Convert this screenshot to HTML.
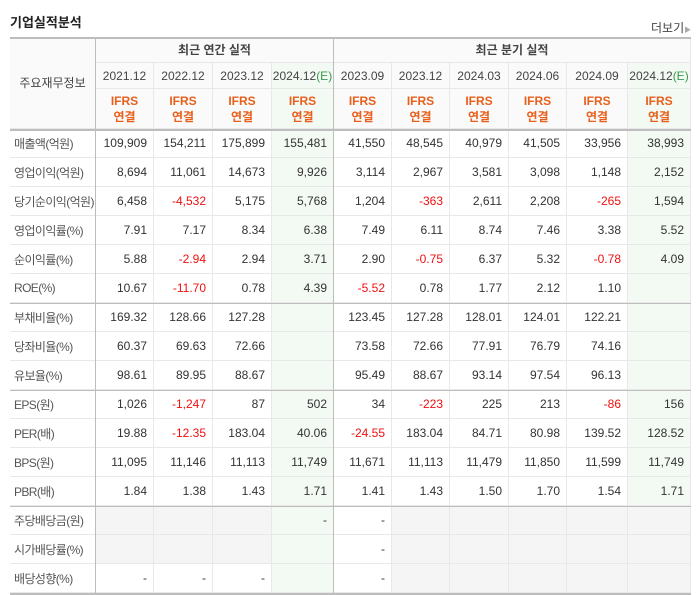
<!DOCTYPE html>
<html><head><meta charset="utf-8">
<style>
body{margin:0;width:697px;height:595px;background:#fff;font-family:"Liberation Sans","Noto Sans CJK KR",sans-serif;position:relative;overflow:hidden}
.c{position:absolute;box-sizing:border-box;font-size:12px;color:#333;display:flex;align-items:center;border-right:1px solid #e8e8e8;border-bottom:1px solid #e8e8e8;white-space:nowrap}
.n{justify-content:flex-end;padding-right:6px}
.h{justify-content:center;text-align:center;background:#fafafa;color:#444}
.lab{padding-left:4px;color:#555;background:#fff;letter-spacing:-0.6px}
.neg{color:#f01010}
.ifrs{color:#e8601c;font-weight:bold;line-height:16px}
.hl{background:#f3f9f3}
.gr{background:#f5f5f5}
.hr{position:absolute;height:1px;background:#bdbdbd}
.vr{position:absolute;width:1px;background:#bdbdbd}
</style></head><body>
<div style="position:absolute;left:10px;top:12px;font-size:13px;font-weight:bold;color:#222">기업실적분석</div>
<div style="position:absolute;left:651px;top:19px;font-size:12px;color:#444">더보기<span style="font-size:7px;color:#aaa">▶</span></div>
<div id="tbl"></div>
<script>
const colW=[86,58,59,59,62,58,58,59,58,61,63];
const periods=["2021.12","2022.12","2023.12","2024.12(E)","2023.09","2023.12","2024.03","2024.06","2024.09","2024.12(E)"];
const rowLabels=["매출액(억원)","영업이익(억원)","당기순이익(억원)","영업이익률(%)","순이익률(%)","ROE(%)","부채비율(%)","당좌비율(%)","유보율(%)","EPS(원)","PER(배)","BPS(원)","PBR(배)","주당배당금(원)","시가배당률(%)","배당성향(%)"];
const values=[
["109,909","154,211","175,899","155,481","41,550","48,545","40,979","41,505","33,956","38,993"],
["8,694","11,061","14,673","9,926","3,114","2,967","3,581","3,098","1,148","2,152"],
["6,458","-4,532","5,175","5,768","1,204","-363","2,611","2,208","-265","1,594"],
["7.91","7.17","8.34","6.38","7.49","6.11","8.74","7.46","3.38","5.52"],
["5.88","-2.94","2.94","3.71","2.90","-0.75","6.37","5.32","-0.78","4.09"],
["10.67","-11.70","0.78","4.39","-5.52","0.78","1.77","2.12","1.10",""],
["169.32","128.66","127.28","","123.45","127.28","128.01","124.01","122.21",""],
["60.37","69.63","72.66","","73.58","72.66","77.91","76.79","74.16",""],
["98.61","89.95","88.67","","95.49","88.67","93.14","97.54","96.13",""],
["1,026","-1,247","87","502","34","-223","225","213","-86","156"],
["19.88","-12.35","183.04","40.06","-24.55","183.04","84.71","80.98","139.52","128.52"],
["11,095","11,146","11,113","11,749","11,671","11,113","11,479","11,850","11,599","11,749"],
["1.84","1.38","1.43","1.71","1.41","1.43","1.50","1.70","1.54","1.71"],
["","","","-","-","","","","",""],
["","","","","-","","","","",""],
["-","-","-","","-","","","","",""]];
const T=document.body;
const X=[10];colW.forEach(w=>X.push(X[X.length-1]+w));
function cell(x,y,w,h,cls,html,name){
 const d=document.createElement('div');
 d.className='c '+cls;
 d.style.cssText=`left:${x}px;top:${y}px;width:${w}px;height:${h}px`;
 d.innerHTML=html;
 
 
 T.appendChild(d);
}
cell(X[0],37,colW[0],92,'h','주요재무정보','header-label');
cell(X[1],37,X[5]-X[1],26,'h','<b>최근 연간 실적</b>','annual-header');
cell(X[5],37,X[11]-X[5],26,'h','<b>최근 분기 실적</b>','quarterly-header');
periods.forEach((p,i)=>{
 const hl=(i==3||i==9)?' hl':'';
 const t=p.replace('(E)','<span style="color:#3a9a4a">(E)</span>');
 cell(X[i+1],63,colW[i+1],26,'h'+hl,t,'period-'+p);
 cell(X[i+1],89,colW[i+1],40,'h'+hl,'<span class="ifrs">IFRS<br>연결</span>','ifrs-'+p);
});
rowLabels.forEach((r,ri)=>{
 const y=129+ri*29;
 cell(X[0],y,colW[0],29,'lab',r,'row-label');
 values[ri].forEach((v,ci)=>{
  let cls='n';
  if(ci==3||ci==9)cls+=' hl';
  if(ri>=13){
   if(ri<15&&ci<3)cls+=' gr';
   if(ci>=5)cls+=' gr';
  }
  if(v.startsWith('-')&&v.length>1)cls+=' neg';
  cell(X[ci+1],y,colW[ci+1],29,cls,v,'value-cell');
 });
});
[[37],[129],[303],[390],[506],[593]].forEach(([y])=>{
 const d=document.createElement('div');d.className='hr';
 d.style.cssText=`left:10px;top:${y}px;width:681px;${y==37||y==129||y==593?'height:2px;':''}`;
 
 
 T.appendChild(d);
});
[X[1]-1,X[5]-1].forEach(x=>{
 const d=document.createElement('div');d.className='vr';
 d.style.cssText=`left:${x}px;top:37px;height:557px`;
 
 
 T.appendChild(d);
});
</script>
</body></html>
